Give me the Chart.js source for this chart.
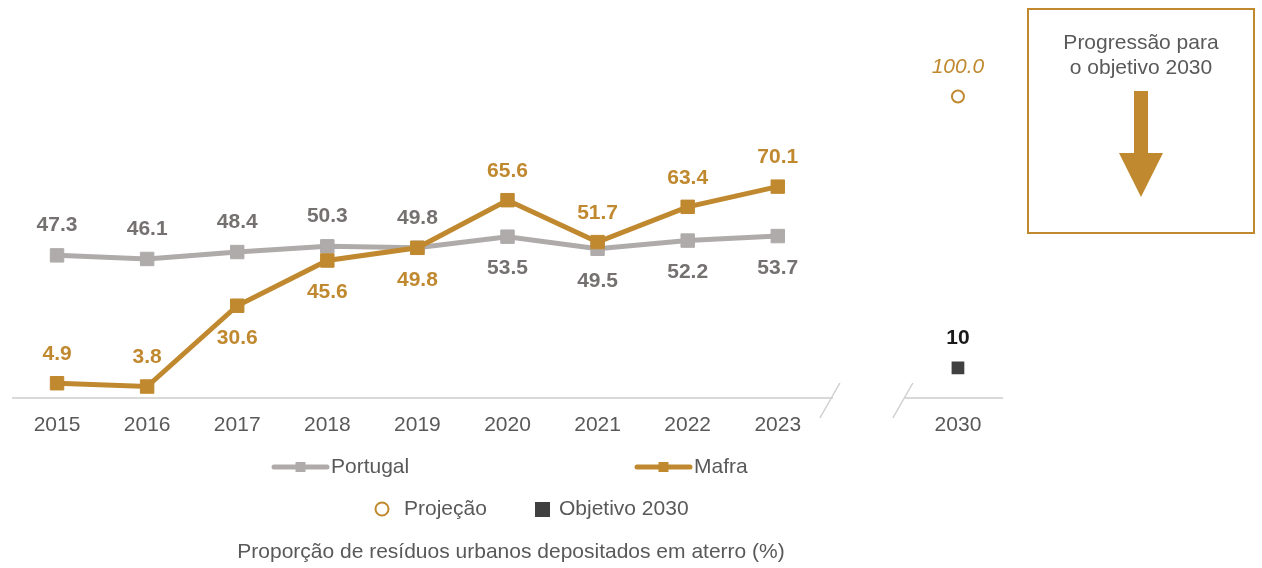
<!DOCTYPE html>
<html>
<head>
<meta charset="utf-8">
<script src="https://cdn.jsdelivr.net/npm/chart.js@4"></script>
<style>
html,body{margin:0;padding:0;background:#fff;}
#wrap{width:1262px;height:568px;position:relative;}
</style>
</head>
<body>
<div id="wrap"><canvas id="c" width="1262" height="568"></canvas></div>
<script>
// ---- data ----
const categories = ['2015','2016','2017','2018','2019','2020','2021','2022','2023','','2030'];
const portugal = [47.3, 46.1, 48.4, 50.3, 49.8, 53.5, 49.5, 52.2, 53.7, null, null];
const mafra = [4.9, 3.8, 30.6, 45.6, 49.8, 65.6, 51.7, 63.4, 70.1, null, null];
const projecao = [null, null, null, null, null, null, null, null, null, null, 100.0];
const objetivo = [null, null, null, null, null, null, null, null, null, null, 10];
const portugalLabelPos = ['top','top','top','top','top','bottom','bottom','bottom','bottom'];
const mafraLabelPos = ['top','top','bottom','bottom','bottom','top','top','top','top'];
const legendLabels = ['Portugal','Mafra','Projeção','Objetivo 2030'];
const chartTitle = 'Proporção de resíduos urbanos depositados em aterro (%)';
const boxText = ['Progressão para','o objetivo 2030'];

const GOLD = '#c0892f';
const GRAY = '#afabab';
const GRAYTXT = '#767171';
const DARK = '#404040';
const TXT = '#595959';
const FONT = '"Liberation Sans", Arial, sans-serif';

const decorPlugin = {
  id: 'decor',
  beforeDatasetsDraw(chart) {
    const ctx = chart.ctx, ca = chart.chartArea, xs = chart.scales.x;
    const y0 = ca.bottom;
    const xb = xs.getPixelForValue(9);
    ctx.save();
    ctx.strokeStyle = '#d9d9d9';
    ctx.lineWidth = 2;
    ctx.beginPath();
    ctx.moveTo(ca.left, y0); ctx.lineTo(xb - 35, y0);
    ctx.moveTo(xb + 37, y0); ctx.lineTo(ca.right, y0);
    ctx.stroke();
    ctx.lineWidth = 1.5;
    ctx.strokeStyle = '#cfcfcf';
    ctx.beginPath();
    ctx.moveTo(xb - 28, y0 - 15); ctx.lineTo(xb - 48, y0 + 20);
    ctx.moveTo(xb + 45, y0 - 15); ctx.lineTo(xb + 25, y0 + 20);
    ctx.stroke();
    ctx.restore();
  },
  afterDatasetsDraw(chart) {
    const ctx = chart.ctx;
    ctx.save();
    ctx.textAlign = 'center';
    ctx.textBaseline = 'middle';
    chart.data.datasets.forEach((ds, di) => {
      const meta = chart.getDatasetMeta(di);
      meta.data.forEach((pt, i) => {
        const v = ds.data[i];
        if (v === null || v === undefined) return;
        let txt, dy, color, font;
        if (ds.label === 'Portugal') {
          txt = v.toFixed(1); color = GRAYTXT; font = 'bold 21px ' + FONT;
          dy = portugalLabelPos[i] === 'top' ? -30 : 32;
        } else if (ds.label === 'Mafra') {
          txt = v.toFixed(1); color = GOLD; font = 'bold 21px ' + FONT;
          dy = mafraLabelPos[i] === 'top' ? -29 : 32;
        } else if (ds.label === 'Projeção') {
          txt = v.toFixed(1); color = GOLD; font = 'italic 21px ' + FONT; dy = -29;
        } else {
          txt = String(v); color = '#1a1a1a'; font = 'bold 21px ' + FONT; dy = -30;
        }
        ctx.fillStyle = color; ctx.font = font;
        ctx.fillText(txt, pt.x, pt.y + dy);
      });
    });
    ctx.restore();
  },
  afterDraw(chart) {
    const ctx = chart.ctx;
    ctx.save();
    ctx.textBaseline = 'middle';
    ctx.font = '21px ' + FONT;
    function lineSample(x1, x2, y, color) {
      ctx.strokeStyle = color; ctx.lineWidth = 5; ctx.lineCap = 'round';
      ctx.beginPath(); ctx.moveTo(x1, y); ctx.lineTo(x2, y); ctx.stroke();
      ctx.fillStyle = color; ctx.fillRect((x1 + x2) / 2 - 5, y - 5, 10, 10);
    }
    lineSample(274, 327, 467, GRAY);
    ctx.fillStyle = TXT; ctx.textAlign = 'left';
    ctx.fillText(legendLabels[0], 331, 467);
    lineSample(637, 690, 467, GOLD);
    ctx.fillStyle = TXT;
    ctx.fillText(legendLabels[1], 694, 467);
    ctx.strokeStyle = GOLD; ctx.lineWidth = 2;
    ctx.beginPath(); ctx.arc(382, 509, 6.5, 0, Math.PI * 2); ctx.stroke();
    ctx.fillStyle = TXT; ctx.fillText(legendLabels[2], 404, 509);
    ctx.fillStyle = DARK; ctx.fillRect(535, 502, 15, 15);
    ctx.fillStyle = TXT; ctx.fillText(legendLabels[3], 559, 509);
    ctx.textAlign = 'center';
    ctx.fillText(chartTitle, 511, 552);
    ctx.strokeStyle = GOLD; ctx.lineWidth = 2;
    ctx.strokeRect(1028, 9, 226, 224);
    ctx.fillStyle = TXT; ctx.font = '21px ' + FONT;
    ctx.fillText(boxText[0], 1141, 43);
    ctx.fillText(boxText[1], 1141, 68);
    ctx.fillStyle = GOLD;
    ctx.fillRect(1134, 91, 14, 63);
    ctx.beginPath();
    ctx.moveTo(1119, 153); ctx.lineTo(1163, 153); ctx.lineTo(1141, 197); ctx.closePath();
    ctx.fill();
    ctx.restore();
  }
};

new Chart(document.getElementById('c'), {
  type: 'line',
  data: {
    labels: categories,
    datasets: [
      { label: 'Mafra', data: mafra, borderColor: GOLD, backgroundColor: GOLD, borderWidth: 5,
        pointStyle: 'rect', pointRadius: 9.5, pointBorderWidth: 1, pointBorderColor: GOLD, pointBackgroundColor: GOLD, tension: 0 },
      { label: 'Portugal', data: portugal, borderColor: GRAY, backgroundColor: GRAY, borderWidth: 5,
        pointStyle: 'rect', pointRadius: 9.5, pointBorderWidth: 1, pointBorderColor: GRAY, pointBackgroundColor: GRAY, tension: 0 },
      { label: 'Projeção', data: projecao, showLine: false, pointStyle: 'circle', pointRadius: 6,
        pointBorderWidth: 2, pointBorderColor: GOLD, pointBackgroundColor: '#fff' },
      { label: 'Objetivo 2030', data: objetivo, showLine: false, pointStyle: 'rect', pointRadius: 9,
        pointBorderWidth: 0, pointBackgroundColor: DARK, pointBorderColor: DARK }
    ]
  },
  options: {
    responsive: false,
    animation: false,
    layout: { padding: { left: 12, right: 259, top: 5, bottom: 130 } },
    plugins: { legend: { display: false }, tooltip: { enabled: false } },
    scales: {
      x: {
        offset: true,
        grid: { display: false, drawTicks: false },
        border: { display: false },
        ticks: { color: TXT, font: { family: FONT, size: 21 }, padding: 15, maxRotation: 0, autoSkip: false },
        afterFit(scale) { scale.height = 40; }
      },
      y: { display: false, min: 0, max: 128.5 }
    }
  },
  plugins: [decorPlugin]
});
</script>
</body>
</html>
